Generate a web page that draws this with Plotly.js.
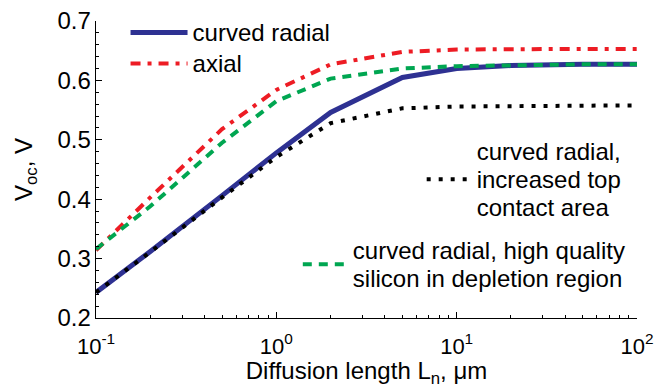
<!DOCTYPE html>
<html>
<head>
<meta charset="utf-8">
<script src="https://cdn.plot.ly/plotly-3.0.1.min.js"></script>
<style>html,body{margin:0;padding:0;background:#fff;}#chart{width:669px;height:388px;}</style>
</head>
<body>
<div id="chart"></div>
<script>
// Diffusion length L_n (µm)
var diffusionLength = [0.1, 0.2, 0.5, 1, 2, 5, 10, 20, 50, 100];
// Voc (V) for each configuration
var curvedRadial   = [0.243, 0.312, 0.406, 0.478, 0.546, 0.605, 0.620, 0.625, 0.627, 0.627];
var axial          = [0.314, 0.403, 0.518, 0.584, 0.627, 0.648, 0.652, 0.653, 0.653, 0.653];
var increasedTop   = [0.243, 0.311, 0.403, 0.471, 0.528, 0.553, 0.556, 0.557, 0.558, 0.558];
var highQualitySi  = [0.316, 0.388, 0.495, 0.565, 0.603, 0.620, 0.624, 0.626, 0.627, 0.627];

var seriesNames = [
  'curved radial',
  'axial',
  'curved radial,<br>increased top<br>contact area',
  'curved radial, high quality<br>silicon in depletion region'
];
var xTickVals = [0.1, 1, 10, 100];
var xTickText = ['10<sup>-1</sup>', '10<sup>0</sup>', '10<sup>1</sup>', '10<sup>2</sup>'];
var yTickVals = [0.2, 0.3, 0.4, 0.5, 0.6, 0.7];
var yTickText = ['0.2', '0.3', '0.4', '0.5', '0.6', '0.7'];

function big(s) {
  return s.split('<br>').map(function (l) { return '<span style="font-size:24px">' + l + '</span>'; }).join('<br>');
}

var minorX = [];
[0.1, 1, 10].forEach(function (d) { for (var k = 2; k <= 9; k++) minorX.push(+(d * k).toPrecision(3)); });

var traces = [
  {x: diffusionLength, y: curvedRadial, mode: 'lines', name: big(seriesNames[0]), legend: 'legend',
   line: {color: '#2e3192', width: 5}},
  {x: diffusionLength, y: axial, mode: 'lines', name: big(seriesNames[1]), legend: 'legend',
   line: {color: '#ed1c24', width: 4, dash: '10px,7px,4px,7px'}},
  {x: diffusionLength, y: increasedTop, mode: 'lines', name: big(seriesNames[2]), legend: 'legend2',
   line: {color: '#000000', width: 4, dash: '4px,8px'}},
  {x: diffusionLength, y: highQualitySi, mode: 'lines', name: big(seriesNames[3]), legend: 'legend3',
   line: {color: '#00a651', width: 4, dash: '9px,7px'}}
];

var legendBase = {bgcolor: 'rgba(0,0,0,0)', borderwidth: 0, font: {family: 'Liberation Sans, Arial, sans-serif', size: 21.5, color: '#000'},
  xanchor: 'left', yanchor: 'top', tracegroupgap: 0};

var layout = {
  width: 669, height: 388,
  margin: {l: 96, r: 32, t: 21, b: 70},
  paper_bgcolor: '#fff', plot_bgcolor: '#fff',
  font: {family: 'Liberation Sans, Arial, sans-serif', size: 24, color: '#000'},
  showlegend: true,
  legend: Object.assign({}, legendBase, {x: 0.0546, y: 1.03, itemwidth: 57}),
  legend2: Object.assign({}, legendBase, {x: 0.602, y: 0.63, itemwidth: 45}),
  legend3: Object.assign({}, legendBase, {x: 0.373, y: 0.297, itemwidth: 45}),
  xaxis: {
    type: 'log', range: [-1, 2], autorange: false,
    showline: true, linecolor: '#000', linewidth: 1.3, mirror: false,
    showgrid: false, zeroline: false,
    ticks: 'inside', ticklen: 6, tickwidth: 1.2, tickcolor: '#000',
    tickmode: 'array', tickvals: xTickVals, ticktext: xTickText,
    tickfont: {size: 22}, ticklabelstandoff: 8,
    minor: {ticks: 'inside', ticklen: 3, tickwidth: 1, tickcolor: '#000', tickmode: 'array', tickvals: minorX, showgrid: false},
    title: {text: 'Diffusion length L<sub>n</sub>, μm', font: {size: 24}, standoff: 4}
  },
  yaxis: {
    range: [0.2, 0.7], autorange: false,
    showline: true, linecolor: '#000', linewidth: 1.3, mirror: false,
    showgrid: false, zeroline: false,
    ticks: 'inside', ticklen: 6, tickwidth: 1.2, tickcolor: '#000',
    tickmode: 'array', tickvals: yTickVals, ticktext: yTickText,
    tickfont: {size: 24}, ticklabelstandoff: -1,
    minor: {ticks: 'inside', ticklen: 3, tickwidth: 1, tickcolor: '#000', dtick: 0.02, showgrid: false},
    title: {text: 'V<sub>oc</sub>, V', font: {size: 24}, standoff: 18}
  }
};

Plotly.newPlot('chart', traces, layout, {staticPlot: true, displayModeBar: false});
</script>
</body>
</html>
